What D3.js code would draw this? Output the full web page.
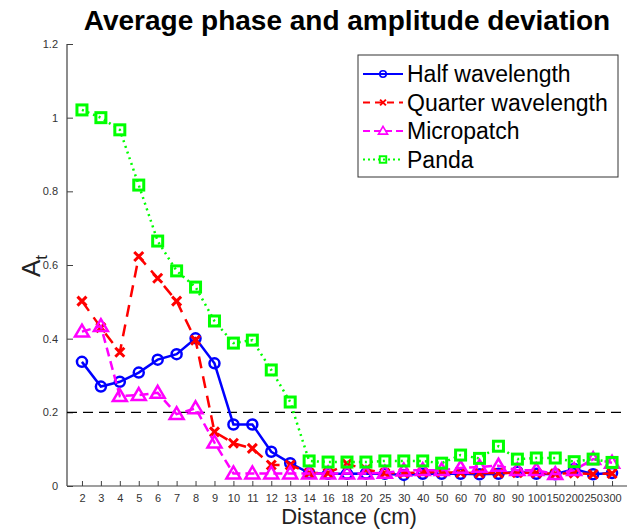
<!DOCTYPE html>
<html>
<head>
<meta charset="utf-8">
<script src="https://cdn.jsdelivr.net/npm/d3@7/dist/d3.min.js"></script>
<style>
  html, body { margin: 0; padding: 0; background: #fff; }
  svg { display: block; font-family: "Liberation Sans", Arial, Helvetica, sans-serif; }
</style>
</head>
<body>
<svg id="chart" width="629" height="531"></svg>
<script>
// Distances (cm), plotted as evenly spaced categories
const distances = ["2","3","4","5","6","7","8","9","10","11","12","13","14","16","18","20","25","30","40","50","60","70","80","90","100","150","200","250","300"];

const halfWavelength = [0.337,0.270,0.283,0.308,0.343,0.358,0.401,0.333,0.167,0.167,0.093,0.062,0.035,0.033,0.033,0.034,0.033,0.030,0.033,0.033,0.033,0.032,0.033,0.039,0.033,0.032,0.046,0.032,0.035];
const quarterWavelength = [0.502,0.430,0.363,0.623,0.564,0.502,0.396,0.147,0.116,0.102,0.057,0.057,0.035,0.035,0.060,0.045,0.035,0.035,0.037,0.037,0.036,0.035,0.035,0.036,0.035,0.033,0.035,0.032,0.034];
const micropatch = [0.419,0.434,0.244,0.247,0.253,0.195,0.211,0.118,0.034,0.034,0.034,0.034,0.034,0.034,0.034,0.034,0.036,0.042,0.043,0.043,0.049,0.052,0.055,0.043,0.043,0.032,0.043,0.073,0.063];
const panda = [1.021,1.000,0.967,0.817,0.665,0.584,0.540,0.448,0.388,0.396,0.315,0.228,0.068,0.065,0.065,0.065,0.068,0.068,0.068,0.062,0.084,0.075,0.108,0.073,0.076,0.076,0.066,0.073,0.064];

const yTicks = [0, 0.2, 0.4, 0.6, 0.8, 1, 1.2];
const threshold = 0.2;

const seriesList = [
  { name: "Half wavelength",    values: halfWavelength,    color: "#0000ff", dash: null,    legendDash: null,  marker: "circle" },
  { name: "Quarter wavelength", values: quarterWavelength, color: "#ff0000", dash: "12,8",  legendDash: "7,5", marker: "cross" },
  { name: "Micropatch",         values: micropatch,        color: "#ff00ff", dash: "9,5",   legendDash: "7,4", marker: "triangle" },
  { name: "Panda",              values: panda,             color: "#00ff00", dash: "2,4",   legendDash: "2,3", marker: "square" }
];

const svg = d3.select("#chart");
const plotLeft = 67, plotRight = 627, plotTop = 44, plotBottom = 486;

const x = d3.scalePoint().domain(distances).range([plotLeft, plotRight]).padding(0.79);
const y = d3.scaleLinear().domain([0, 1.2]).range([plotBottom, plotTop]);

const axisColor = "#404040";

// Title
svg.append("text")
  .attr("x", 347).attr("y", 30)
  .attr("text-anchor", "middle")
  .attr("font-size", 28).attr("font-weight", "bold")
  .attr("fill", "#000")
  .text("Average phase and amplitude deviation");

// Axes (ticks point inward)
const xAxis = svg.append("g")
  .attr("transform", `translate(0,${plotBottom})`)
  .call(d3.axisBottom(x).tickSizeInner(-5).tickSizeOuter(0).tickPadding(8));
xAxis.select(".domain").remove();
xAxis.append("line").attr("x1", plotLeft).attr("x2", plotRight).attr("stroke", axisColor).attr("stroke-width", 1.2);
xAxis.selectAll(".tick line").attr("stroke", axisColor);
xAxis.selectAll(".tick text").attr("font-size", 11).attr("fill", "#333").attr("font-family", "Liberation Sans, Arial, sans-serif");

const yAxis = svg.append("g")
  .attr("transform", `translate(${plotLeft},0)`)
  .call(d3.axisLeft(y).tickValues(yTicks).tickFormat(d3.format("~g")).tickSizeInner(-6).tickSizeOuter(0).tickPadding(9));
yAxis.select(".domain").remove();
yAxis.append("line").attr("y1", plotTop).attr("y2", plotBottom).attr("stroke", axisColor).attr("stroke-width", 1.2);
yAxis.selectAll(".tick line").attr("stroke", axisColor);
yAxis.selectAll(".tick text").attr("font-size", 11).attr("fill", "#333").attr("font-family", "Liberation Sans, Arial, sans-serif");

// Axis labels
svg.append("text")
  .attr("x", 349).attr("y", 524)
  .attr("text-anchor", "middle")
  .attr("font-size", 22).attr("fill", "#222")
  .text("Distance (cm)");

const yl = svg.append("text")
  .attr("transform", "translate(40,266) rotate(-90)")
  .attr("text-anchor", "middle")
  .attr("font-size", 26).attr("fill", "#222");
yl.append("tspan").text("A");
yl.append("tspan").attr("font-size", 17).attr("dy", 7).text("t");

// Threshold line
svg.append("line")
  .attr("x1", plotLeft).attr("x2", plotRight)
  .attr("y1", y(threshold)).attr("y2", y(threshold))
  .attr("stroke", "#000").attr("stroke-width", 1.2)
  .attr("stroke-dasharray", "10,6");

// Marker drawing
function drawMarker(g, type, cx, cy, color, k = 1) {
  if (type === "circle") {
    g.append("circle").attr("cx", cx).attr("cy", cy).attr("r", 5 * k)
      .attr("fill", "none").attr("stroke", color).attr("stroke-width", 2.5 * k);
  } else if (type === "cross") {
    const s = 4.5 * k;
    g.append("path").attr("d", `M${cx-s},${cy-s}L${cx+s},${cy+s}M${cx-s},${cy+s}L${cx+s},${cy-s}`)
      .attr("stroke", color).attr("stroke-width", 3 * k).attr("fill", "none");
  } else if (type === "triangle") {
    const s = 7 * k;
    g.append("path").attr("d", `M${cx},${cy-s}L${cx+s},${cy+s*0.7}L${cx-s},${cy+s*0.7}Z`)
      .attr("stroke", color).attr("stroke-width", 2.5 * k).attr("fill", "none");
  } else if (type === "square") {
    const s = 5 * k;
    g.append("rect").attr("x", cx-s).attr("y", cy-s).attr("width", 2*s).attr("height", 2*s)
      .attr("stroke", color).attr("stroke-width", 3 * k).attr("fill", "none");
  }
}

const line = d3.line().x((d, i) => x(distances[i])).y(d => y(d));

seriesList.forEach(s => {
  const g = svg.append("g");
  g.append("path").datum(s.values)
    .attr("d", line)
    .attr("fill", "none")
    .attr("stroke", s.color)
    .attr("stroke-width", 2.5)
    .attr("stroke-dasharray", s.dash);
  s.values.forEach((v, i) => drawMarker(g, s.marker, x(distances[i]), y(v), s.color));
});

// Legend
const legend = svg.append("g");
legend.append("rect")
  .attr("x", 358).attr("y", 55).attr("width", 260).attr("height", 122)
  .attr("fill", "#fff").attr("stroke", "#333").attr("stroke-width", 1);
seriesList.forEach((s, i) => {
  const ly = 74 + i * 28.5;
  legend.append("line")
    .attr("x1", 363).attr("x2", 403).attr("y1", ly).attr("y2", ly)
    .attr("stroke", s.color).attr("stroke-width", 2)
    .attr("stroke-dasharray", s.legendDash);
  drawMarker(legend, s.marker, 383, ly, s.color, 0.65);
  legend.append("text")
    .attr("x", 407).attr("y", ly + 8)
    .attr("font-size", 23).attr("fill", "#000")
    .text(s.name);
});
</script>
</body>
</html>
